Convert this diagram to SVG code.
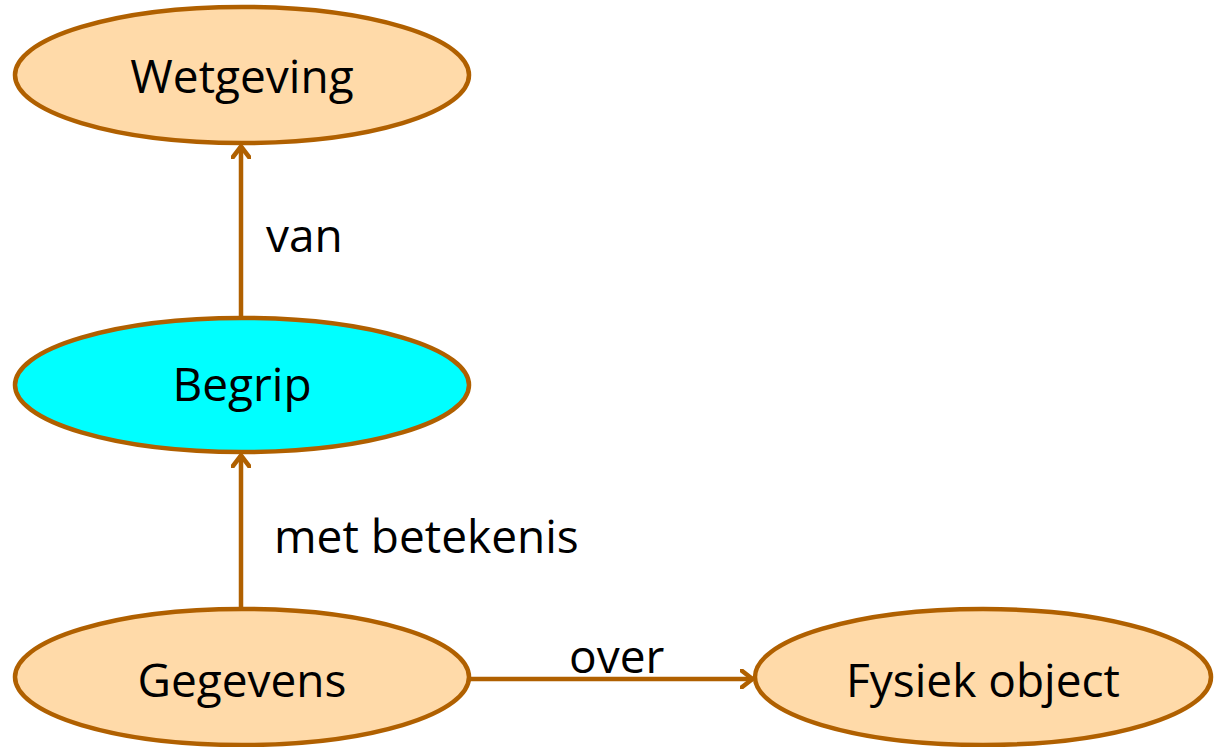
<svg xmlns="http://www.w3.org/2000/svg" width="1216" height="747" viewBox="0 0 1216 747">
<style>
.n{fill:#FFDAA9;stroke:#B06000;stroke-width:4.5}
.c{fill:#00FFFF}
.t{font-family:"Open Sans","Liberation Sans",sans-serif;font-size:46px;fill:#000;text-anchor:middle}
.l{font-family:"Open Sans","Liberation Sans",sans-serif;font-size:46px;fill:#000}
.e{stroke:#B06000;stroke-width:4.5;fill:none}
</style>
<defs>
<marker id="a" viewBox="0 0 14 20" refX="13" refY="10" markerWidth="14" markerHeight="20" markerUnits="userSpaceOnUse" orient="auto">
<path d="M1.5,1.5 L12.5,10 L1.5,18.5" fill="none" stroke="#B06000" stroke-width="4.5" stroke-linecap="round" stroke-linejoin="round"/>
</marker>
</defs>
<g id="edges">
<line class="e" x1="241" y1="317" x2="241" y2="146" marker-end="url(#a)"/>
<line class="e" x1="241" y1="609" x2="241" y2="455" marker-end="url(#a)"/>
<line class="e" x1="470" y1="679" x2="753" y2="679" marker-end="url(#a)"/>
<text class="l" x="266" y="252">van</text>
<text class="l" x="274" y="553">met betekenis</text>
<text class="l" x="569" y="673">over</text>
</g>
<g id="wetgeving">
<ellipse class="n" cx="242" cy="75" rx="227" ry="68"/>
<text class="t" x="242" y="93">Wetgeving</text>
</g>
<g id="begrip">
<ellipse class="n c" cx="242" cy="385" rx="227" ry="67"/>
<text class="t" x="242" y="401">Begrip</text>
</g>
<g id="gegevens">
<ellipse class="n" cx="242" cy="677" rx="227" ry="68"/>
<text class="t" x="242" y="697">Gegevens</text>
</g>
<g id="fysiek">
<ellipse class="n" cx="983" cy="677" rx="228" ry="68"/>
<text class="t" x="983" y="697">Fysiek object</text>
</g>
</svg>
